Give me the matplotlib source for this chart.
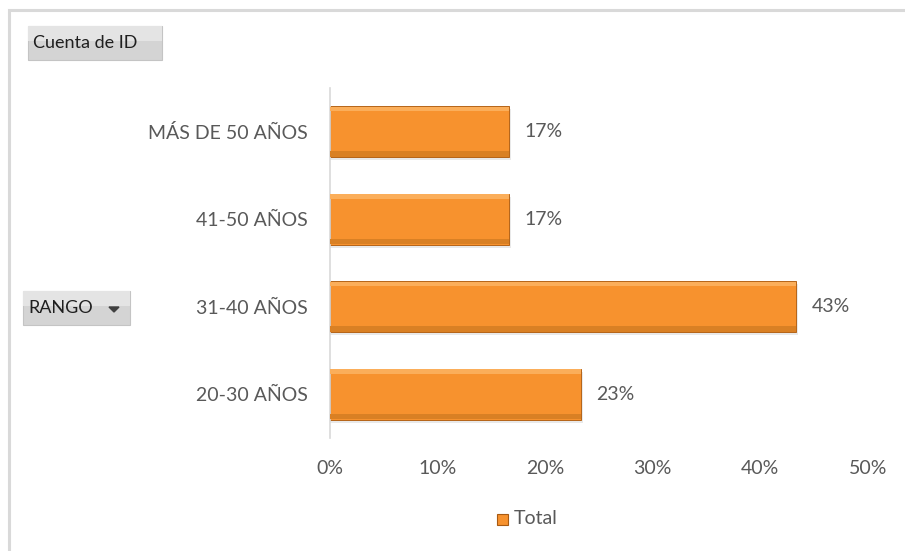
import matplotlib.pyplot as plt
from matplotlib.patches import Rectangle, Polygon
from matplotlib.ticker import PercentFormatter

# Age ranges and head counts (share of 30 records)
rangos = ["20-30 AÑOS", "31-40 AÑOS", "41-50 AÑOS", "MÁS DE 50 AÑOS"]
conteo = [7, 13, 5, 5]
total_registros = sum(conteo)
porcentajes = [c / total_registros for c in conteo]
etiquetas = [f"{p:.0%}" for p in porcentajes]
ticks_x = [0, 0.1, 0.2, 0.3, 0.4, 0.5]

plt.rcParams["font.family"] = ["Lato", "DejaVu Sans"]
GRIS = "#595959"
NARANJA = "#F7922E"
TAM = 14

fig = plt.figure(figsize=(9.05, 5.51), dpi=100)
fig.patch.set_facecolor("white")

# outer chart frame
fig.add_artist(Rectangle((9 / 905, -0.1), 1.0, 1 - 10 / 551 + 0.1,
                         transform=fig.transFigure, fill=False,
                         edgecolor="#D9D9D9", linewidth=2.2))

ax = fig.add_axes([330 / 905, 1 - 438 / 551, 538 / 905, 350 / 551])
y = list(range(len(rangos)))
alto = 0.58

# soft shadow, main bar, then bevel highlights
ax.barh([v - 0.035 for v in y], [p + 0.002 for p in porcentajes], height=alto,
        color="#CFCFCF", alpha=0.45, zorder=1)
ax.barh(y, porcentajes, height=alto, color=NARANJA, edgecolor="#B56418",
        linewidth=0.7, zorder=2)
ax.barh([v + alto / 2 - 0.03 for v in y], porcentajes, height=0.05,
        color="#FBAE5A", linewidth=0, zorder=3)
ax.barh([v - alto / 2 + 0.035 for v in y], porcentajes, height=0.06,
        color="#D98024", linewidth=0, zorder=3)

for v, p, txt in zip(y, porcentajes, etiquetas):
    ax.text(p + 0.014, v, txt, va="center", ha="left", fontsize=TAM, color=GRIS)

ax.set_xlim(0, 0.5)
ax.set_ylim(-0.5, len(rangos) - 0.5)
ax.set_xticks(ticks_x)
ax.xaxis.set_major_formatter(PercentFormatter(1.0, decimals=0))
ax.set_yticks(y)
ax.set_yticklabels(rangos)
ax.tick_params(axis="both", length=0, labelsize=TAM, labelcolor=GRIS)
ax.tick_params(axis="x", pad=16)
ax.tick_params(axis="y", pad=16)
for lado in ["top", "right", "bottom"]:
    ax.spines[lado].set_visible(False)
ax.spines["left"].set_color("#D9D9D9")
ax.spines["left"].set_linewidth(1.2)

# legend
fig.add_artist(Rectangle((497 / 905, 1 - 525 / 551), 11 / 905, 11 / 551,
                         transform=fig.transFigure, facecolor=NARANJA,
                         edgecolor="#A85A12", linewidth=0.8))
fig.text(514 / 905, 1 - 519 / 551, "Total", fontsize=TAM, color=GRIS,
         va="center", ha="left")

# pivot field buttons
def boton(x0, y0, x1, y1, texto):
    fig.add_artist(Rectangle((x0 / 905, 1 - y1 / 551), (x1 - x0) / 905,
                             (y1 - y0) / 551, transform=fig.transFigure,
                             facecolor="#D4D4D4", edgecolor="#C4C4C4",
                             linewidth=0.8))
    fig.add_artist(Rectangle((x0 / 905, 1 - (y0 + (y1 - y0) * 0.45) / 551),
                             (x1 - x0) / 905, (y1 - y0) * 0.45 / 551,
                             transform=fig.transFigure, facecolor="#E4E4E4",
                             linewidth=0))
    fig.text((x0 + 5) / 905, 1 - (y0 + y1) / 2 / 551, texto, fontsize=13,
             color="#1F1F1F", va="center", ha="left")

boton(28, 26, 162, 60, "Cuenta de ID")
boton(23, 291, 130, 325, "RANGO")
fig.add_artist(Polygon([(109 / 905, 1 - 307 / 551), (119 / 905, 1 - 307 / 551),
                        (114 / 905, 1 - 312 / 551)], closed=True,
                       transform=fig.transFigure, color="#404040"))

fig.savefig("out.png", dpi=100)
